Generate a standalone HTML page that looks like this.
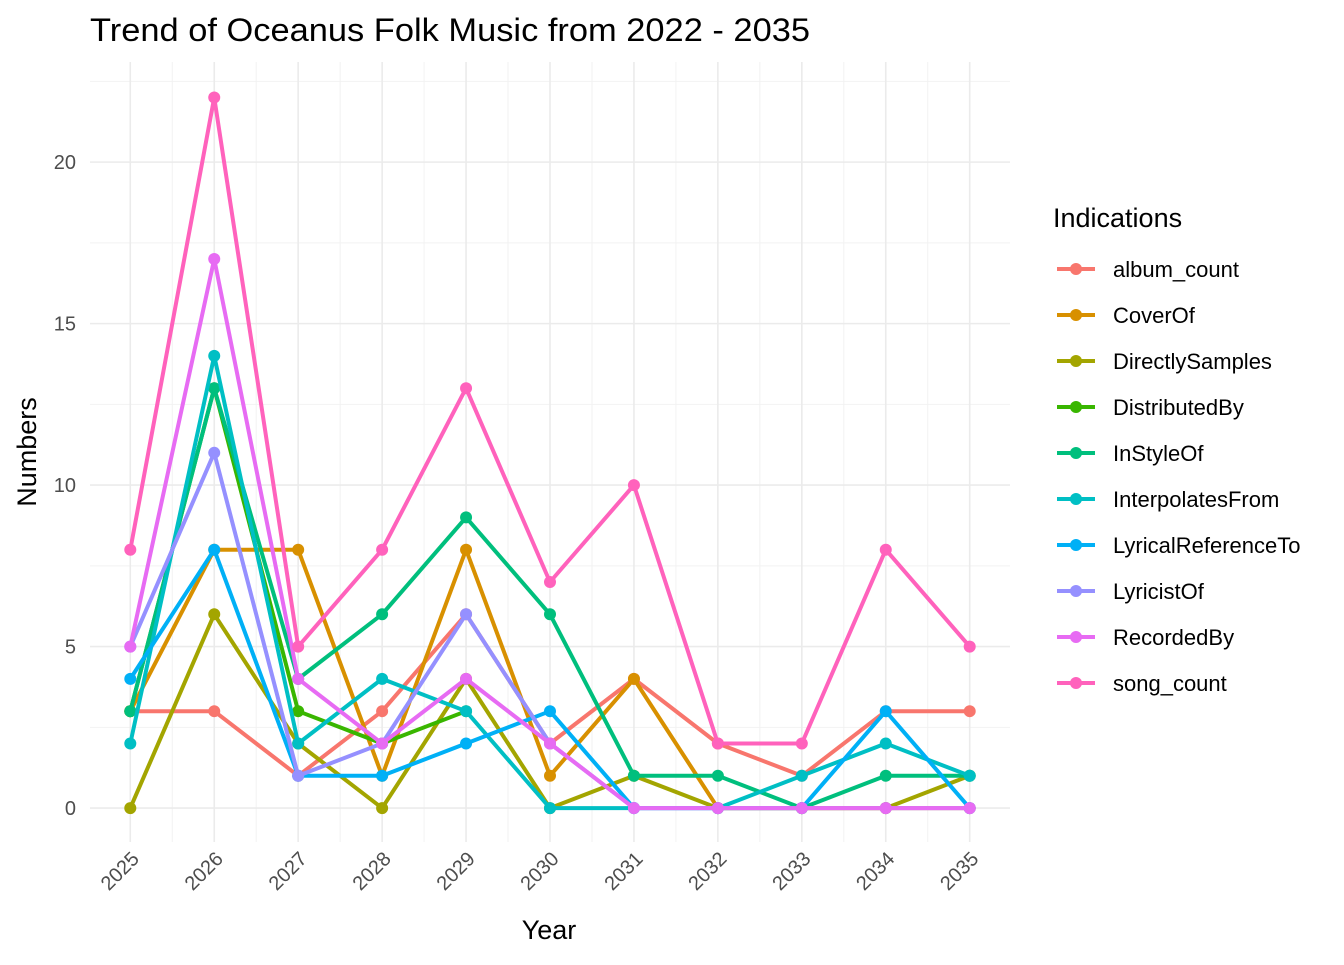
<!DOCTYPE html>
<html><head><meta charset="utf-8"><style>
body{margin:0;background:#fff;}
svg text{font-family:"Liberation Sans",Arial,sans-serif;}
</style></head><body>
<svg id="chart" width="1344" height="960" xmlns="http://www.w3.org/2000/svg">
<text x="90" y="41" font-size="32" textLength="720" lengthAdjust="spacingAndGlyphs" fill="#000">Trend of Oceanus Folk Music from 2022 - 2035</text>
<g id="grid"></g><g id="axes"></g><g id="series"></g><g id="legend"></g>
<text x="549" y="939" font-size="27" text-anchor="middle" fill="#000">Year</text>
<text transform="translate(36,452) rotate(-90)" font-size="27" text-anchor="middle" fill="#000">Numbers</text>
</svg>
<script>
const years=[2025,2026,2027,2028,2029,2030,2031,2032,2033,2034,2035];
const yTicks=[0,5,10,15,20];
const seriesNames=["album_count","CoverOf","DirectlySamples","DistributedBy","InStyleOf","InterpolatesFrom","LyricalReferenceTo","LyricistOf","RecordedBy","song_count"];
const albumCount=[3,3,1,3,6,2,4,2,1,3,3];
const coverOf=[3,8,8,1,8,1,4,0,0,0,0];
const directlySamples=[0,6,2,0,4,0,1,0,0,0,1];
const distributedBy=[3,13,3,2,3,null,null,null,null,null,null];
const inStyleOf=[3,13,4,6,9,6,1,1,0,1,1];
const interpolatesFrom=[2,14,2,4,3,0,0,0,1,2,1];
const lyricalReferenceTo=[4,8,1,1,2,3,0,0,0,3,0];
const lyricistOf=[5,11,1,2,6,2,0,0,0,0,0];
const recordedBy=[5,17,4,2,4,2,0,0,0,0,0];
const songCount=[8,22,5,8,13,7,10,2,2,8,5];
const allValues=[albumCount,coverOf,directlySamples,distributedBy,inStyleOf,interpolatesFrom,lyricalReferenceTo,lyricistOf,recordedBy,songCount];
const colors=["#F8766D","#D89000","#A3A500","#39B600","#00BF7D","#00BFC4","#00B0F6","#9590FF","#E76BF3","#FF62BC"];
const NS="http://www.w3.org/2000/svg";
const PL=90,PR=1010,PT=62,PB=842;
const xMin=2024.52,xMax=2035.48,yMin=-1.05,yMax=23.1;
function sx(v){return PL+(v-xMin)/(xMax-xMin)*(PR-PL);}
function sy(v){return PB-(v-yMin)/(yMax-yMin)*(PB-PT);}
function mk(tag,attrs,parent){const e=document.createElementNS(NS,tag);for(const k in attrs)e.setAttribute(k,attrs[k]);parent.appendChild(e);return e;}
const grid=document.getElementById('grid'),axes=document.getElementById('axes'),ser=document.getElementById('series'),leg=document.getElementById('legend');
for(let i=0;i<years.length-1;i++){const x=sx(years[i]+0.5);const l=mk('line',{x1:x,x2:x,y1:PT,y2:PB,stroke:'#f2f2f2','stroke-width':1},grid);

}
for(let i=0;i<yTicks.length;i++){const y=sy(yTicks[i]+2.5);const l=mk('line',{x1:PL,x2:PR,y1:y,y2:y,stroke:'#f2f2f2','stroke-width':1},grid);

}
years.forEach(yr=>{const x=sx(yr);const l=mk('line',{x1:x,x2:x,y1:PT,y2:PB,stroke:'#ebebeb','stroke-width':1.6},grid);


const t=mk('text',{transform:`translate(${x+10},${PB+18}) rotate(-45)`,'font-size':20,fill:'#4d4d4d','text-anchor':'end'},axes);t.textContent=yr;

});
yTicks.forEach(v=>{const y=sy(v);const l=mk('line',{x1:PL,x2:PR,y1:y,y2:y,stroke:'#ebebeb','stroke-width':1.6},grid);


const t=mk('text',{x:76,y:y+7,'font-size':20,fill:'#4d4d4d','text-anchor':'end'},axes);t.textContent=v;

});
allValues.forEach((vals,si)=>{const g=mk('g',{},ser);


let d='',pen=false;vals.forEach((v,i)=>{if(v===null){pen=false;return;}d+=(pen?'L':'M')+sx(years[i])+','+sy(v);pen=true;});
mk('path',{d:d,fill:'none',stroke:colors[si],'stroke-width':4,'stroke-linejoin':'round'},g);
vals.forEach((v,i)=>{if(v===null)return;const c=mk('circle',{cx:sx(years[i]),cy:sy(v),r:6,fill:colors[si]},g);

});});
const lt=mk('text',{x:1053,y:227,'font-size':27,fill:'#000'},leg);lt.textContent='Indications';


seriesNames.forEach((n,i)=>{const y=269+i*46;const g=mk('g',{},leg);


mk('line',{x1:1057,x2:1095,y1:y,y2:y,stroke:colors[i],'stroke-width':4},g);
mk('circle',{cx:1076,cy:y,r:6,fill:colors[i]},g);
const t=mk('text',{x:1113,y:y+8,'font-size':22,fill:'#000'},g);t.textContent=n;});
</script>
</body></html>
